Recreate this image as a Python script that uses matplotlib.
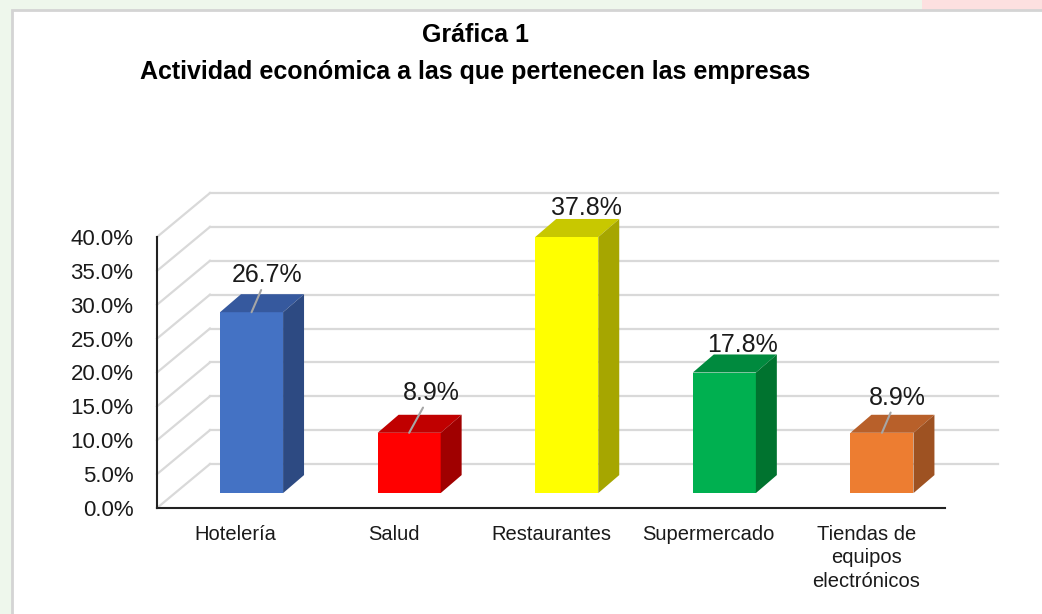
import matplotlib
matplotlib.use("Agg")
import matplotlib.pyplot as plt
from matplotlib.patches import Polygon, Rectangle
from matplotlib import font_manager

# chart data
categories = ["Hotelería", "Salud", "Restaurantes", "Supermercado", "Tiendas de\nequipos\nelectrónicos"]
values = [26.7, 8.9, 37.8, 17.8, 8.9]
value_labels = ["26.7%", "8.9%", "37.8%", "17.8%", "8.9%"]
y_ticks = [0, 5, 10, 15, 20, 25, 30, 35, 40]

front_colors = ["#4472C4", "#FF0000", "#FFFF00", "#00B050", "#ED7D31"]
top_colors = ["#36599E", "#C00000", "#C8C800", "#008A3E", "#B8602A"]
side_colors = ["#2D4A82", "#A00000", "#A6A600", "#00732F", "#9E5222"]

# label offsets from the front top of each bar (pixels), and leader line on/off
label_offsets = [(16, 37), (22, 40), (20, 29), (18, 27), (15, 35)]
leaders = [True, True, False, False, True]

names = {f.name for f in font_manager.fontManager.ttflist}
narrow = "Liberation Sans Narrow" if "Liberation Sans Narrow" in names else "Liberation Sans"
plt.rcParams["font.family"] = ["Liberation Sans", "DejaVu Sans"]

fig = plt.figure(figsize=(10.42, 6.14), dpi=100, facecolor="#eef7ec")

# slide frame (behind everything)
fig.patches.append(Rectangle((0.885, 0.984), 0.2, 0.03, transform=fig.transFigure,
                             facecolor="#fde0e0", edgecolor="none", zorder=-10))
fig.patches.append(Rectangle((12 / 1042, -0.05), 1.05, 1 - 10 / 614 + 0.05, transform=fig.transFigure,
                             facecolor="white", edgecolor="#d4d4d4", lw=2, zorder=-9))

ax = fig.add_axes([157 / 1042, (614 - 508) / 614, 788 / 1042, 271 / 614])
ax.set_zorder(2)
ax.set_xlim(-0.5, len(categories) - 0.5)
ax.set_ylim(0, 40)
ax.patch.set_alpha(0)

# 3d depth in data units
depth_dx, depth_dy = 0.336, 6.49
bar_dx0, bar_dy0 = 0.10, 2.2
bar_w = 0.40
bar_ddx, bar_ddy = 0.133, 2.66

x0, x1 = -0.5, len(categories) - 0.5
grid_c = "#d9d9d9"
for v in y_ticks:
    ax.plot([x0 + depth_dx, x1 + depth_dx], [v + depth_dy, v + depth_dy], color=grid_c, lw=1.6,
            clip_on=False, zorder=1)
    ax.plot([x0, x0 + depth_dx], [v, v + depth_dy], color=grid_c, lw=1.6, clip_on=False, zorder=1)

for i, v in enumerate(values):
    xl = i - bar_w / 2 + bar_dx0
    xr = xl + bar_w
    yb = bar_dy0
    yt = bar_dy0 + v
    front = Polygon([(xl, yb), (xr, yb), (xr, yt), (xl, yt)], closed=True,
                    facecolor=front_colors[i], edgecolor="none", zorder=3, clip_on=False)
    top = Polygon([(xl, yt), (xr, yt), (xr + bar_ddx, yt + bar_ddy), (xl + bar_ddx, yt + bar_ddy)],
                  closed=True, facecolor=top_colors[i], edgecolor="none", zorder=3, clip_on=False)
    side = Polygon([(xr, yb), (xr + bar_ddx, yb + bar_ddy), (xr + bar_ddx, yt + bar_ddy), (xr, yt)],
                   closed=True, facecolor=side_colors[i], edgecolor="none", zorder=3, clip_on=False)
    for p in (front, top, side):
        ax.add_patch(p)

    ox, oy = label_offsets[i]
    arrow = dict(arrowstyle="-", color="#a6a6a6", lw=1.5, shrinkA=0, shrinkB=0) if leaders[i] else None
    ax.annotate(value_labels[i], xy=(i + bar_dx0, yt), xytext=(ox, oy), textcoords="offset pixels",
                ha="center", va="center", fontsize=18, color="#1a1a1a",
                arrowprops=arrow, zorder=5, annotation_clip=False)

for s in ["top", "right"]:
    ax.spines[s].set_visible(False)
for s in ["left", "bottom"]:
    ax.spines[s].set_color("#222222")
    ax.spines[s].set_linewidth(1.5)

ax.set_yticks(y_ticks)
ax.set_yticklabels([f"{t:.1f}%" for t in y_ticks], fontsize=16, color="#1a1a1a")
ax.set_xticks(range(len(categories)))
ax.set_xticklabels(categories, fontsize=14.5, color="#1a1a1a", linespacing=1.3)
ax.tick_params(axis="y", length=0, pad=17)
ax.tick_params(axis="x", length=0, pad=12)

fig.text(476 / 1042, 1 - 35 / 614, "Gráfica 1", ha="center", va="center",
         fontsize=18, fontweight="bold", family=narrow)
fig.text(475 / 1042, 1 - 72 / 614, "Actividad económica a las que pertenecen las empresas",
         ha="center", va="center", fontsize=18, fontweight="bold", family=narrow)

fig.savefig("out.png", dpi=100, facecolor=fig.get_facecolor())
